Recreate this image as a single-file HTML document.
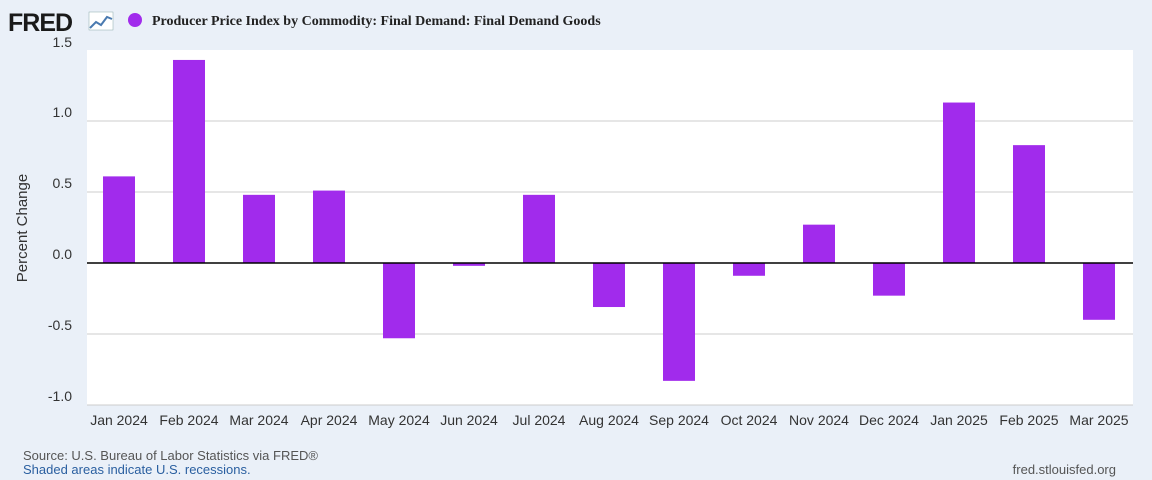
<!DOCTYPE html>
<html><head><meta charset="utf-8">
<style>
body{margin:0;width:1152px;height:480px;background:#eaf0f8;font-family:"Liberation Sans",sans-serif;overflow:hidden;position:relative}
svg{position:absolute;left:0;top:0}
</style></head>
<body>
<svg id="chart" width="1152" height="480">
  <g>
    <text x="8" y="31" font-size="25" font-weight="bold" fill="#1a1a1a" font-family="Liberation Sans, sans-serif" letter-spacing="-1">FRED</text>
    <rect x="89" y="12" width="24" height="18" fill="#fff" stroke="#8aa" stroke-width="0.5"/>
    <polyline points="90,28 96,22 101,25 107,17 112,19" fill="none" stroke="#4a7ab0" stroke-width="2"/>
  </g>
  <circle cx="135" cy="20" r="7" fill="#a12bec"/>
  <text x="152" y="25" font-size="14" font-weight="bold" fill="#222" font-family="Liberation Serif, serif">Producer Price Index by Commodity: Final Demand: Final Demand Goods</text>
  <rect x="87" y="50" width="1046" height="355" fill="#fff"/>
  <g id="grid"></g>
  <g id="bars"></g>
  <g id="xlabels"></g>
  <text transform="translate(27,228) rotate(-90)" text-anchor="middle" font-size="15" fill="#333">Percent Change</text>
  <text x="23" y="460" font-size="13" fill="#555">Source: U.S. Bureau of Labor Statistics via FRED®</text>
  <text x="23" y="474" font-size="13" fill="#2a5fa0">Shaded areas indicate U.S. recessions.</text>
  <text x="1116" y="474" font-size="13" fill="#555" text-anchor="end">fred.stlouisfed.org</text>
</svg>
<script>
const categories=["Jan 2024","Feb 2024","Mar 2024","Apr 2024","May 2024","Jun 2024","Jul 2024","Aug 2024","Sep 2024","Oct 2024","Nov 2024","Dec 2024","Jan 2025","Feb 2025","Mar 2025"];
const values=[0.61,1.43,0.48,0.51,-0.53,-0.02,0.48,-0.31,-0.83,-0.09,0.27,-0.23,1.13,0.83,-0.40];
const yTicks=[1.5,1.0,0.5,0.0,-0.5,-1.0];
const yTickLabels=["1.5","1.0","0.5","0.0","-0.5","-1.0"];
const NS="http://www.w3.org/2000/svg";
const plotL=87,plotR=1133,plotT=50,plotB=405,yMax=1.5,yMin=-1.0;
function y(v){return plotT+(yMax-v)/(yMax-yMin)*(plotB-plotT);}
const step=70;
function x(i){return 119+step*i;}
const barW=32;
const grid=document.getElementById('grid');
yTicks.forEach((t,i)=>{
  if(t!==0&&t!==yMax){const l=document.createElementNS(NS,'line');
  l.setAttribute('x1',plotL);l.setAttribute('x2',plotR);l.setAttribute('y1',y(t));l.setAttribute('y2',y(t));
  l.setAttribute('stroke','#ccc');l.setAttribute('stroke-width','1');
  
  
  grid.appendChild(l);}
  const tx=document.createElementNS(NS,'text');
  tx.setAttribute('x',72);tx.setAttribute('y',y(t)+(t===yMax?-3:-4));tx.setAttribute('text-anchor','end');
  tx.setAttribute('font-size','14');tx.setAttribute('fill','#333');tx.textContent=yTickLabels[i];
  
  
  grid.appendChild(tx);
});
const bars=document.getElementById('bars');
values.forEach((v,i)=>{
  const r=document.createElementNS(NS,'rect');
  const top=Math.min(y(v),y(0)),h=Math.abs(y(v)-y(0));
  r.setAttribute('x',x(i)-barW/2);r.setAttribute('width',barW);r.setAttribute('y',top);r.setAttribute('height',h);
  r.setAttribute('fill','#a12bec');
  
  
  bars.appendChild(r);
});
const zl=document.createElementNS(NS,'line');
zl.setAttribute('x1',plotL);zl.setAttribute('x2',plotR);zl.setAttribute('y1',y(0));zl.setAttribute('y2',y(0));
zl.setAttribute('stroke','#000');zl.setAttribute('stroke-width','1.5');


bars.appendChild(zl);
const xl=document.getElementById('xlabels');
categories.forEach((c,i)=>{
  const t=document.createElementNS(NS,'text');
  t.setAttribute('x',x(i));t.setAttribute('y',425);t.setAttribute('text-anchor','middle');
  t.setAttribute('font-size','14');t.setAttribute('fill','#333');t.textContent=c;
  
  
  xl.appendChild(t);
});
</script>
</body></html>
